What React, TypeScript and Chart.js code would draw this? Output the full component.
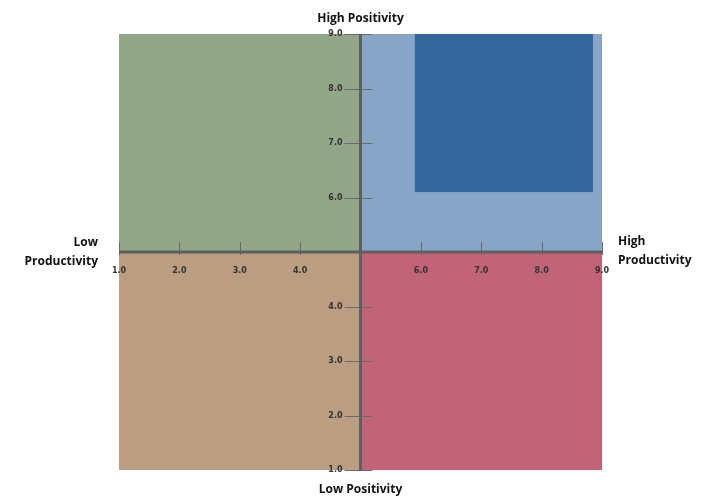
import React, { useEffect, useRef } from "react";
import { Chart, registerables } from "chart.js";

Chart.register(...registerables);

// Quadrant / region data (value space)
const regionNames = ["Low Prod / High Pos", "High Prod / High Pos", "Low Prod / Low Pos", "High Prod / Low Pos", "Target"];
const regionX0 = [1, 5, 1, 5, 5.9];
const regionX1 = [5, 9, 5, 9, 8.85];
const regionY0 = [5, 5, 1, 1, 6.1];
const regionY1 = [9, 9, 5, 5, 9];
const regionColors = ["#93A689", "#88A4C7", "#BB9D82", "#C26477", "#34679B"];

const xTicks = [1, 2, 3, 4, 6, 7, 8, 9];
const yTicks = [1, 2, 3, 4, 6, 7, 8, 9];
const xTickLabels = ["1.0", "2.0", "3.0", "4.0", "6.0", "7.0", "8.0", "9.0"];
const yTickLabels = ["1.0", "2.0", "3.0", "4.0", "6.0", "7.0", "8.0", "9.0"];
const axisCenter = 5;

const topTitle = "High Positivity";
const bottomTitle = "Low Positivity";
const leftTitle = ["Low", "Productivity"];
const rightTitle = ["High", "Productivity"];

const quadPlugin = {
  id: "quadPlugin",
  beforeDatasetsDraw(chart: any) {
    const { ctx, scales } = chart;
    const xs = scales.x;
    const ys = scales.y;
    ctx.save();
    for (let i = 0; i < regionNames.length; i++) {
      const l = xs.getPixelForValue(regionX0[i]);
      const r = xs.getPixelForValue(regionX1[i]);
      const t = ys.getPixelForValue(regionY1[i]);
      const b = ys.getPixelForValue(regionY0[i]);
      ctx.fillStyle = regionColors[i];
      ctx.fillRect(l, t, r - l, b - t);
    }
    const cx = xs.getPixelForValue(axisCenter);
    const cy = ys.getPixelForValue(axisCenter);
    // tick marks
    ctx.strokeStyle = "#6a6a6a";
    ctx.lineWidth = 1;
    ctx.beginPath();
    for (const v of yTicks) {
      const y = Math.round(ys.getPixelForValue(v)) + 0.5;
      ctx.moveTo(cx - 16, y);
      ctx.lineTo(cx + 12, y);
    }
    for (const v of xTicks) {
      const x = Math.round(xs.getPixelForValue(v)) + 0.5;
      ctx.moveTo(x, cy - 10);
      ctx.lineTo(x, cy + 3);
    }
    ctx.stroke();
    // center cross
    ctx.strokeStyle = "#5e5f61";
    ctx.lineWidth = 3;
    ctx.beginPath();
    ctx.moveTo(xs.getPixelForValue(1), cy);
    ctx.lineTo(xs.getPixelForValue(9), cy);
    ctx.moveTo(cx, ys.getPixelForValue(9));
    ctx.lineTo(cx, ys.getPixelForValue(1));
    ctx.stroke();

    // tick labels
    ctx.fillStyle = "#333333";
    ctx.font = "bold 8px 'DejaVu Sans'";
    ctx.textBaseline = "middle";
    ctx.textAlign = "right";
    yTicks.forEach((v, i) => {
      ctx.fillText(yTickLabels[i], cx - 18, ys.getPixelForValue(v));
    });
    ctx.textAlign = "center";
    xTicks.forEach((v, i) => {
      ctx.fillText(xTickLabels[i], xs.getPixelForValue(v), cy + 19);
    });

    // titles
    ctx.fillStyle = "#111111";
    ctx.font = "bold 12px 'Open Sans'";
    ctx.textAlign = "center";
    ctx.fillText(topTitle, cx, 19);
    ctx.fillText(bottomTitle, cx, 490);
    ctx.textAlign = "right";
    ctx.fillText(leftTitle[0], xs.getPixelForValue(1) - 21, cy - 9);
    ctx.fillText(leftTitle[1], xs.getPixelForValue(1) - 21, cy + 10);
    ctx.textAlign = "left";
    ctx.fillText(rightTitle[0], xs.getPixelForValue(9) + 16, cy - 10);
    ctx.fillText(rightTitle[1], xs.getPixelForValue(9) + 16, cy + 9);
    ctx.restore();
  },
};

export default function App() {
  const ref = useRef<HTMLCanvasElement>(null);
  useEffect(() => {
    if (!ref.current) return;
    const chart = new Chart(ref.current, {
      type: "scatter",
      data: { datasets: [{ data: [], pointRadius: 0 }] },
      options: {
        animation: false,
        responsive: true,
        maintainAspectRatio: false,
        layout: { padding: { left: 119, right: 112, top: 34, bottom: 30 } },
        plugins: { legend: { display: false }, tooltip: { enabled: false } },
        scales: {
          x: { type: "linear", min: 1, max: 9, display: false },
          y: { type: "linear", min: 1, max: 9, display: false },
        },
      },
      plugins: [quadPlugin],
    });
    return () => chart.destroy();
  }, []);
  return (
    <div style={{ position: "absolute", left: 0, top: 0, width: 714, height: 500, background: "#fff" }}>
      <canvas ref={ref} />
    </div>
  );
}
